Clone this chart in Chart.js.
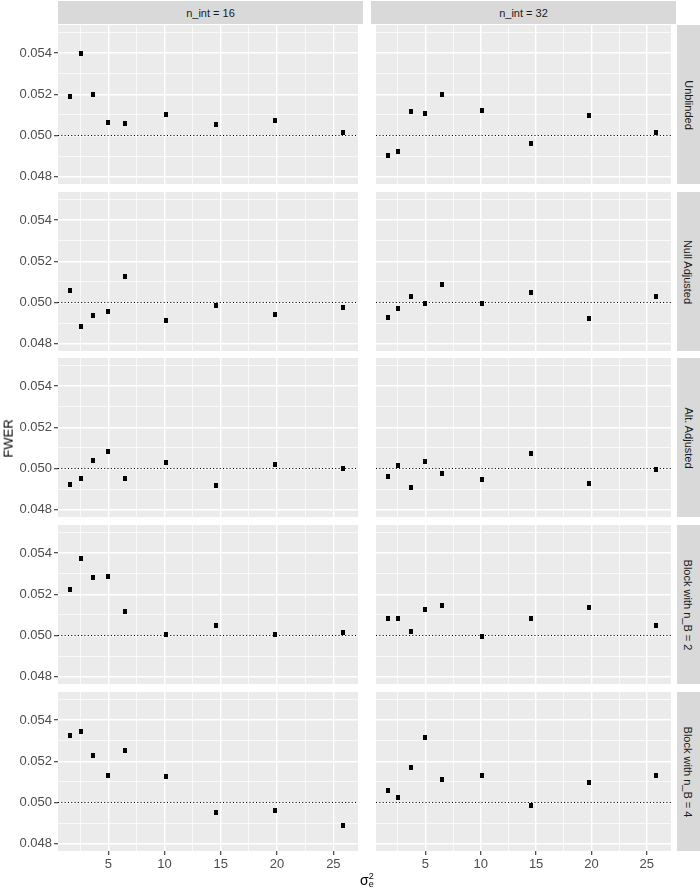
<!DOCTYPE html>
<html>
<head>
<meta charset="utf-8">
<script src="https://cdn.jsdelivr.net/npm/chart.js@4/dist/chart.umd.min.js"></script>
<style>
  html, body { margin: 0; padding: 0; background: #ffffff; }
  #wrap { position: relative; width: 700px; height: 893px; overflow: hidden; font-family: "Liberation Sans", Arial, sans-serif; }
  canvas { position: absolute; }
  .stripTop { position: absolute; background: #D9D9D9; color: #1A1A1A; font-size: 11px; display: flex; align-items: center; justify-content: center; }
  .stripRight { position: absolute; background: #D9D9D9; color: #1A1A1A; font-size: 11px; display: flex; align-items: center; justify-content: center; }
  .stripRight span { display: inline-block; transform: rotate(90deg); white-space: nowrap; }
  .ytitle { position: absolute; font-size: 13px; color: #000; transform: rotate(-90deg); white-space: nowrap; }
  .xtitle { position: absolute; font-size: 14px; color: #000; white-space: nowrap; }
  .stack { display: inline-block; vertical-align: middle; line-height: 8px; font-size: 9px; text-align: left; position: relative; top: -1px; }
</style>
</head>
<body>
<div id="wrap"></div>
<script>
// ---------------- data ----------------
const colLabels = ['n_int = 16', 'n_int = 32'];
const rowLabels = ['Unblinded', 'Null Adjusted', 'Alt. Adjusted', 'Block with n_B = 2', 'Block with n_B = 4'];
const sigma2 = [1.62, 2.55, 3.66, 4.97, 6.49, 10.13, 14.55, 19.8, 25.85];

const unblinded16 = [0.05191, 0.05396, 0.05200, 0.05063, 0.05058, 0.05102, 0.05055, 0.05071, 0.05016];
const unblinded32 = [0.04904, 0.04925, 0.05117, 0.05109, 0.05200, 0.05123, 0.04961, 0.05095, 0.05013];
const nullAdj16   = [0.05060, 0.04884, 0.04939, 0.04955, 0.05126, 0.04915, 0.04987, 0.04944, 0.04978];
const nullAdj32   = [0.04926, 0.04973, 0.05031, 0.04997, 0.05087, 0.04995, 0.05047, 0.04923, 0.05031];
const altAdj16    = [0.04923, 0.04952, 0.05037, 0.05085, 0.04952, 0.05027, 0.04918, 0.05019, 0.05001];
const altAdj32    = [0.04963, 0.05013, 0.04906, 0.05034, 0.04977, 0.04948, 0.05072, 0.04926, 0.04997];
const block2_16   = [0.05221, 0.05375, 0.05282, 0.05284, 0.05117, 0.05005, 0.05047, 0.05005, 0.05016];
const block2_32   = [0.05083, 0.05085, 0.05021, 0.05126, 0.05144, 0.04995, 0.05085, 0.05136, 0.05051];
const block4_16   = [0.05325, 0.05343, 0.05228, 0.05130, 0.05251, 0.05126, 0.04950, 0.04963, 0.04890];
const block4_32   = [0.05060, 0.05023, 0.05170, 0.05317, 0.05113, 0.05131, 0.04987, 0.05097, 0.05133];

const refLevel = 0.05;
const yMajorTicks = [0.048, 0.050, 0.052, 0.054];
const yMinorTicks = [0.049, 0.051, 0.053, 0.055];
const xMajorTicks = [5, 10, 15, 20, 25];
const xMinorTicks = [2.5, 7.5, 12.5, 17.5, 22.5];
const xLimits = [0.53, 27.19];
const yLimits = [0.04765, 0.05536];

const panelSeries = [
  [unblinded16, unblinded32],
  [nullAdj16, nullAdj32],
  [altAdj16, altAdj32],
  [block2_16, block2_32],
  [block4_16, block4_32]
];

// ---------------- layout ----------------
const wrap = document.getElementById('wrap');
const rowTops = [25, 192, 358, 525, 692];
const panelH = 159;
const colLefts = [58, 371];
const panelW = 305;
const yAxisW = 58;
const padV = 8;
const xAxisH = 24;

Chart.defaults.font.family = '"Liberation Sans", Arial, sans-serif';

const isIn = (v, arr) => arr.some(a => Math.abs(a - v) < 1e-9);

const marker = document.createElement('canvas');
marker.width = 4; marker.height = 5;
{ const mc = marker.getContext('2d'); mc.fillStyle = '#000'; mc.fillRect(0, 0, 4, 5); }

const panelBg = {
  id: 'panelBg',
  beforeDraw(chart) {
    const { ctx, chartArea: a } = chart;
    ctx.save();
    ctx.fillStyle = '#EBEBEB';
    ctx.fillRect(a.left, a.top, a.right - a.left, a.bottom - a.top);
    ctx.restore();
  }
};

function makePanel(r, c) {
  const isLeft = c === 0;
  const isBottom = r === rowTops.length - 1;
  const cv = document.createElement('canvas');
  const cLeft = isLeft ? colLefts[0] - yAxisW : colLefts[1];
  const cW = isLeft ? yAxisW + panelW : panelW;
  const cTop = rowTops[r] - padV;
  const cH = padV + panelH + (isBottom ? xAxisH : padV);
  cv.width = cW; cv.height = cH;
  cv.style.left = cLeft + 'px'; cv.style.top = cTop + 'px';
  cv.style.width = cW + 'px'; cv.style.height = cH + 'px';
  wrap.appendChild(cv);

  const vals = panelSeries[r][c];
  const pts = sigma2.map((x, i) => ({ x: x, y: vals[i] }));

  new Chart(cv, {
    type: 'scatter',
    data: {
      datasets: [
        {
          type: 'line',
          data: [{ x: xLimits[0], y: refLevel }, { x: xLimits[1], y: refLevel }],
          borderColor: '#000',
          borderWidth: 1.1,
          borderDash: [1.1, 2.2],
          pointRadius: 0,
          fill: false
        },
        {
          data: pts,
          pointStyle: marker,
          pointRadius: 3,
          backgroundColor: '#000',
          borderColor: '#000'
        }
      ]
    },
    options: {
      responsive: false,
      animation: false,
      events: [],
      layout: { padding: { top: padV, bottom: isBottom ? 0 : padV, left: 0, right: 0 } },
      plugins: { legend: { display: false }, tooltip: { enabled: false } },
      scales: {
        x: {
          type: 'linear',
          min: xLimits[0], max: xLimits[1],
          border: { display: false },
          afterBuildTicks: s => { s.ticks = xMinorTicks.concat(xMajorTicks).sort((a, b) => a - b).map(v => ({ value: v })); },
          afterFit: s => { s.height = isBottom ? xAxisH : 0; s.paddingLeft = 0; s.paddingRight = 0; },
          grid: {
            color: '#FFFFFF',
            lineWidth: ctx => isIn(ctx.tick.value, xMajorTicks) ? 1.4 : 0.7,
            drawTicks: isBottom,
            tickLength: 4,
            tickWidth: 1.1,
            tickColor: ctx => isIn(ctx.tick.value, xMajorTicks) ? '#333333' : 'rgba(0,0,0,0)'
          },
          ticks: {
            display: isBottom,
            autoSkip: false,
            maxRotation: 0,
            padding: 2,
            color: '#4D4D4D',
            font: { size: 13 },
            callback: v => isIn(v, xMajorTicks) ? String(v) : ''
          }
        },
        y: {
          type: 'linear',
          min: yLimits[0], max: yLimits[1],
          border: { display: false },
          afterBuildTicks: s => { s.ticks = yMajorTicks.concat(yMinorTicks).sort((a, b) => a - b).map(v => ({ value: v })); },
          afterFit: s => { s.width = isLeft ? yAxisW : 0; s.paddingTop = 0; s.paddingBottom = 0; },
          grid: {
            color: '#FFFFFF',
            lineWidth: ctx => isIn(ctx.tick.value, yMajorTicks) ? 1.4 : 0.7,
            drawTicks: isLeft,
            tickLength: 4,
            tickWidth: 1.1,
            tickColor: ctx => isIn(ctx.tick.value, yMajorTicks) ? '#333333' : 'rgba(0,0,0,0)'
          },
          ticks: {
            display: isLeft,
            autoSkip: false,
            padding: 2,
            color: '#4D4D4D',
            font: { size: 13 },
            callback: v => isIn(v, yMajorTicks) ? v.toFixed(3) : ''
          }
        }
      }
    },
    plugins: [panelBg]
  });
}

for (let r = 0; r < rowTops.length; r++) {
  for (let c = 0; c < colLefts.length; c++) makePanel(r, c);
}

// strips
colLabels.forEach((t, c) => {
  const d = document.createElement('div');
  d.className = 'stripTop';
  d.style.left = colLefts[c] + 'px'; d.style.top = '1px';
  d.style.width = panelW + 'px'; d.style.height = '23px';
  d.textContent = t;
  wrap.appendChild(d);
});
rowLabels.forEach((t, r) => {
  const d = document.createElement('div');
  d.className = 'stripRight';
  d.style.left = (colLefts[1] + panelW + 1) + 'px'; d.style.top = rowTops[r] + 'px';
  d.style.width = '23px'; d.style.height = panelH + 'px';
  const s = document.createElement('span');
  s.textContent = t;
  d.appendChild(s);
  wrap.appendChild(d);
});

// axis titles
const yt = document.createElement('div');
yt.className = 'ytitle';
yt.textContent = 'FWER';
wrap.appendChild(yt);
const ytW = yt.offsetWidth, ytH = yt.offsetHeight;
const yMid = (rowTops[0] + rowTops[rowTops.length - 1] + panelH) / 2;
yt.style.left = (8 - ytW / 2) + 'px';
yt.style.top = (yMid - ytH / 2) + 'px';

const xt = document.createElement('div');
xt.className = 'xtitle';
xt.innerHTML = 'σ<span class="stack">2<br>e</span>';
wrap.appendChild(xt);
const xMid = (colLefts[0] + colLefts[1] + panelW) / 2;
xt.style.left = (xMid - xt.offsetWidth / 2) + 'px';
xt.style.top = '872px';
</script>
</body>
</html>
